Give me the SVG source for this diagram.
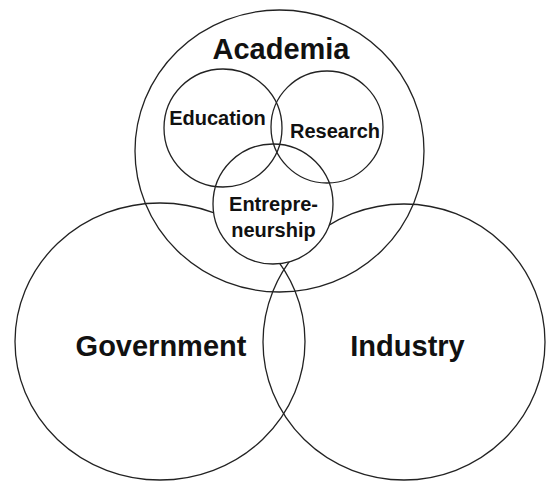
<svg xmlns="http://www.w3.org/2000/svg" width="547" height="482" viewBox="0 0 547 482">
  <style>
    .ring { fill: none; stroke: #222; stroke-width: 1.3; }
    .solid { fill: #fff; stroke: #222; stroke-width: 1.3; }
    .big { font-family: "Liberation Sans", Arial, sans-serif; font-weight: bold; font-size: 29px; fill: #111; text-anchor: middle; }
    .small { font-family: "Liberation Sans", Arial, sans-serif; font-weight: bold; font-size: 20px; fill: #111; text-anchor: middle; }
  </style>
  <rect width="547" height="482" fill="#fff"/>

  <g id="academia">
    <ellipse class="ring" cx="279.5" cy="151" rx="144.5" ry="141"/>
    <text class="big" x="281" y="59">Academia</text>
  </g>

  <g id="government">
    <ellipse class="ring" cx="160" cy="341.5" rx="145" ry="138.5"/>
    <text class="big" x="161" y="356">Government</text>
  </g>

  <g id="industry">
    <ellipse class="ring" cx="404" cy="342" rx="141" ry="138"/>
    <text class="big" x="407.5" y="356">Industry</text>
  </g>

  <!-- entrepreneurship sits on top of government/industry with a white fill -->
  <g id="entrepreneurship">
    <circle class="solid" cx="273" cy="204" r="60"/>
    <text class="small" x="273.5" y="211">Entrepre-</text>
    <text class="small" x="273.5" y="237">neurship</text>
  </g>

  <g id="education">
    <circle class="ring" cx="223" cy="128" r="59"/>
    <text class="small" x="217.5" y="124.5">Education</text>
  </g>

  <g id="research">
    <circle class="ring" cx="327" cy="127" r="56"/>
    <text class="small" x="335" y="138">Research</text>
  </g>

  <g id="connectors"></g>
</svg>
